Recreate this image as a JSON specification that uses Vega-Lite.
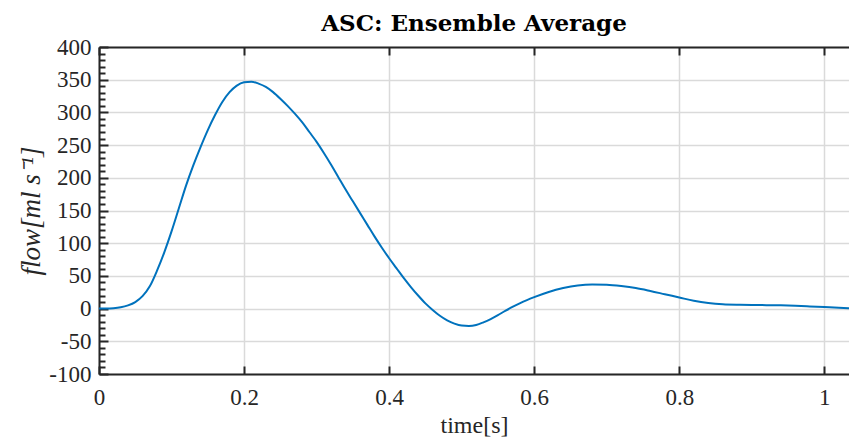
{
  "$schema": "https://vega.github.io/schema/vega-lite/v6.json",
  "width": 750,
  "height": 327,
  "autosize": {"type": "none"},
  "padding": {"left": 99, "top": 47, "right": 0, "bottom": 65},
  "background": "white",
  "title": {
    "text": "ASC: Ensemble Average",
    "font": "DejaVu Serif",
    "fontSize": 23,
    "fontWeight": "bold",
    "color": "#000000",
    "anchor": "middle",
    "offset": 0
  },
  "data": {
    "values": [
      {"t": 0, "v": 0},
      {"t": 0.01, "v": 0},
      {"t": 0.02, "v": 0.5},
      {"t": 0.03, "v": 2},
      {"t": 0.04, "v": 5},
      {"t": 0.05, "v": 10},
      {"t": 0.06, "v": 19},
      {"t": 0.07, "v": 34},
      {"t": 0.08, "v": 58},
      {"t": 0.09, "v": 86},
      {"t": 0.1, "v": 118},
      {"t": 0.11, "v": 153},
      {"t": 0.12, "v": 188},
      {"t": 0.13, "v": 219},
      {"t": 0.14, "v": 247},
      {"t": 0.15, "v": 273},
      {"t": 0.16, "v": 296},
      {"t": 0.17, "v": 316},
      {"t": 0.18, "v": 331},
      {"t": 0.19, "v": 341},
      {"t": 0.2, "v": 346},
      {"t": 0.21, "v": 347},
      {"t": 0.22, "v": 344},
      {"t": 0.23, "v": 339},
      {"t": 0.24, "v": 331},
      {"t": 0.25, "v": 321},
      {"t": 0.26, "v": 310},
      {"t": 0.27, "v": 298},
      {"t": 0.28, "v": 285},
      {"t": 0.29, "v": 270},
      {"t": 0.3, "v": 255},
      {"t": 0.31, "v": 238},
      {"t": 0.32, "v": 220},
      {"t": 0.33, "v": 201},
      {"t": 0.34, "v": 182},
      {"t": 0.35, "v": 164},
      {"t": 0.36, "v": 146},
      {"t": 0.37, "v": 128},
      {"t": 0.38, "v": 110},
      {"t": 0.39, "v": 93},
      {"t": 0.4, "v": 77},
      {"t": 0.41, "v": 62},
      {"t": 0.42, "v": 47},
      {"t": 0.43, "v": 33},
      {"t": 0.44, "v": 20},
      {"t": 0.45, "v": 8},
      {"t": 0.46, "v": -2},
      {"t": 0.47, "v": -11},
      {"t": 0.48, "v": -18},
      {"t": 0.49, "v": -23},
      {"t": 0.5, "v": -26},
      {"t": 0.51, "v": -26.5},
      {"t": 0.52, "v": -25},
      {"t": 0.53, "v": -21},
      {"t": 0.54, "v": -16},
      {"t": 0.55, "v": -10},
      {"t": 0.56, "v": -3.5},
      {"t": 0.57, "v": 2.5},
      {"t": 0.58, "v": 8},
      {"t": 0.59, "v": 13},
      {"t": 0.6, "v": 17.5},
      {"t": 0.62, "v": 25.5},
      {"t": 0.64, "v": 31.5},
      {"t": 0.66, "v": 35.5},
      {"t": 0.68, "v": 37},
      {"t": 0.7, "v": 36.5},
      {"t": 0.72, "v": 34.5},
      {"t": 0.74, "v": 31.5},
      {"t": 0.76, "v": 27},
      {"t": 0.78, "v": 22},
      {"t": 0.8, "v": 17},
      {"t": 0.82, "v": 12},
      {"t": 0.84, "v": 8.5},
      {"t": 0.86, "v": 6.5},
      {"t": 0.88, "v": 5.8},
      {"t": 0.9, "v": 5.6},
      {"t": 0.92, "v": 5.3},
      {"t": 0.94, "v": 5},
      {"t": 0.96, "v": 4.3},
      {"t": 0.98, "v": 3.3},
      {"t": 1.0, "v": 2.3},
      {"t": 1.02, "v": 1.2},
      {"t": 1.034, "v": 0.6}
    ]
  },
  "layer": [
    {
      "mark": {"type": "line", "color": "#0072BD", "strokeWidth": 2, "interpolate": "monotone", "clip": true},
      "encoding": {
        "x": {
          "field": "t", "type": "quantitative",
          "scale": {"domain": [0, 1.034], "nice": false, "zero": false},
          "axis": {
            "orient": "bottom",
            "values": [0, 0.2, 0.4, 0.6, 0.8, 1],
            "labelExpr": "toString(datum.value)",
            "grid": true,
            "ticks": true,
            "tickSize": -8,
            "labelPadding": 20,
            "title": "time[s]",
            "titleFont": "Liberation Serif",
            "titleFontSize": 24,
            "titleFontWeight": "normal",
            "titleColor": "#262626",
            "titlePadding": 4
          }
        },
        "y": {
          "field": "v", "type": "quantitative",
          "scale": {"domain": [-100, 400], "nice": false, "zero": false},
          "axis": {
            "orient": "left",
            "values": [-100, -50, 0, 50, 100, 150, 200, 250, 300, 350, 400],
            "labelExpr": "toString(datum.value)",
            "grid": true,
            "ticks": true,
            "tickSize": -9,
            "labelPadding": 17,
            "title": "flow[ml s⁻¹]",
            "titleFont": "Liberation Serif",
            "titleFontSize": 27,
            "titleFontStyle": "italic",
            "titleFontWeight": "normal",
            "titleColor": "#262626",
            "titlePadding": 3
          }
        }
      }
    },
    {
      "mark": {"type": "line", "strokeOpacity": 0, "clip": true},
      "encoding": {
        "x": {
          "field": "t", "type": "quantitative",
          "axis": {
            "orient": "top",
            "values": [0, 0.2, 0.4, 0.6, 0.8, 1],
            "grid": false,
            "labels": false,
            "ticks": true,
            "tickSize": -8,
            "title": null
          }
        },
        "y": {
          "field": "v", "type": "quantitative",
          "axis": {
            "orient": "left",
            "values": [-90, -80, -70, -60, -40, -30, -20, -10, 10, 20, 30, 40, 60, 70, 80, 90, 110, 120, 130, 140, 160, 170, 180, 190, 210, 220, 230, 240, 260, 270, 280, 290, 310, 320, 330, 340, 360, 370, 380, 390],
            "grid": false,
            "labels": false,
            "domain": false,
            "ticks": true,
            "tickSize": -6,
            "title": null
          }
        }
      }
    }
  ],
  "resolve": {"axis": {"x": "independent", "y": "independent"}},
  "config": {
    "view": {"stroke": null},
    "axis": {
      "domainColor": "#262626",
      "domainWidth": 2,
      "tickColor": "#262626",
      "tickWidth": 2,
      "gridColor": "#dadada",
      "gridWidth": 1.5,
      "labelFont": "Liberation Serif",
      "labelFontSize": 23,
      "labelColor": "#262626",
      "labelFlush": false,
      "labelOverlap": false
    }
  }
}
